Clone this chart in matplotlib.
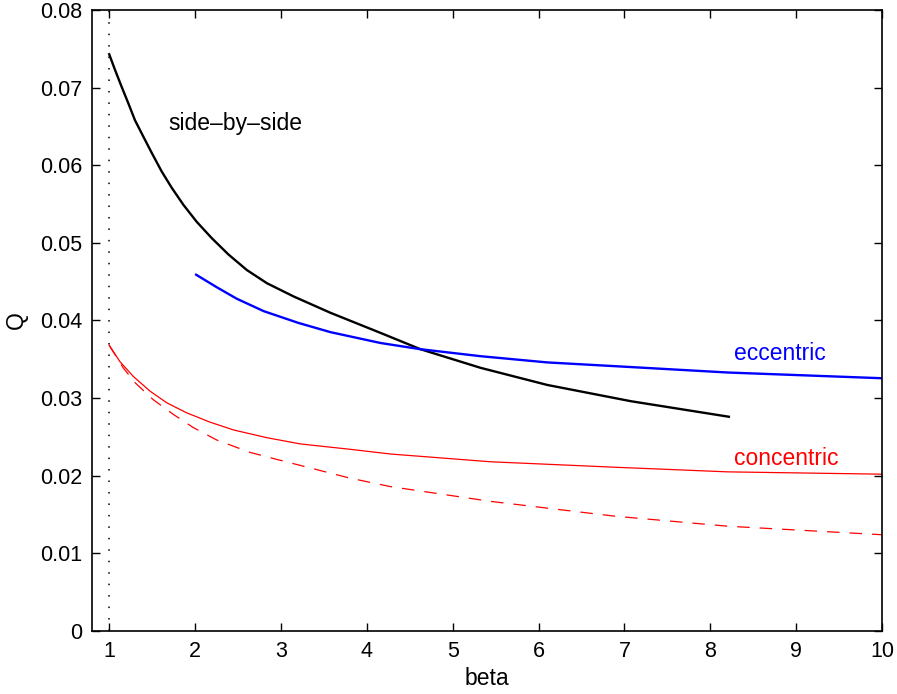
import matplotlib
matplotlib.use("Agg")
import matplotlib.pyplot as plt

plt.rcParams['font.family'] = ['Liberation Sans', 'DejaVu Sans']

# side-by-side (black)
beta_sbs = [1.0, 1.067, 1.145, 1.222, 1.30, 1.397, 1.495, 1.611, 1.728, 1.864, 2.02, 2.195, 2.389,
            2.603, 2.837, 3.147, 3.575, 4.16, 4.625, 5.325, 6.10, 7.076, 8.216]
q_sbs = [0.0743, 0.0723, 0.0701, 0.0680, 0.0658, 0.0637, 0.0616, 0.0592, 0.0571, 0.0549, 0.0527, 0.0506, 0.0485,
         0.0465, 0.0448, 0.0431, 0.0410, 0.0384, 0.0363, 0.0339, 0.0317, 0.0296, 0.0276]

# eccentric (blue)
beta_ecc = [2.012, 2.25, 2.486, 2.8, 3.2, 3.576, 4.16, 4.625, 5.325, 6.10, 7.076, 8.2, 10.0]
q_ecc = [0.0459, 0.0443, 0.0428, 0.0412, 0.0397, 0.0385, 0.0371, 0.0363, 0.0354, 0.0346, 0.0340, 0.0333, 0.03256]

# concentric (red solid)
beta_con = [1.0, 1.125, 1.28, 1.475, 1.67, 1.903, 2.175, 2.447, 2.837, 3.225, 3.81, 4.275, 5.44, 6.88, 8.2, 10.0]
q_con = [0.0368, 0.0347, 0.0328, 0.0309, 0.0294, 0.0281, 0.0269, 0.0259, 0.0249, 0.0241, 0.0234, 0.0228, 0.0218,
         0.0211, 0.0205, 0.0202]

# concentric (red dashed)
beta_con2 = [1.0, 1.163, 1.30, 1.513, 1.747, 1.98, 2.253, 2.642, 2.953, 3.342, 3.80, 4.275, 5.44, 6.88, 8.2, 10.0]
q_con2 = [0.0368, 0.0339, 0.0320, 0.0298, 0.0279, 0.0262, 0.0246, 0.0230, 0.0221, 0.0210, 0.0197, 0.0186, 0.0167,
          0.0148, 0.0135, 0.0124]

fig = plt.figure(figsize=(8.97, 6.94), dpi=100)
ax = fig.add_axes([0.1026, 0.0908, 0.8807, 0.8948])

ax.axvline(1, color='k', linestyle=(0, (1, 6.5)), linewidth=1.1)
ax.plot(beta_sbs, q_sbs, color='k', linewidth=1.7)
ax.plot(beta_ecc, q_ecc, color='#0000ff', linewidth=1.7)
ax.plot(beta_con, q_con, color='#ff0000', linewidth=0.9)
ax.plot(beta_con2, q_con2, color='#ff0000', linewidth=0.9, linestyle=(0, (10, 8)))

ax.text(1.69, 0.0646, 'side\u2013by\u2013side', fontsize=16.5, color='k', va='baseline')
ax.text(8.274, 0.03494, 'eccentric', fontsize=16.5, color='#0000ff', va='baseline')
ax.text(8.274, 0.02135, 'concentric', fontsize=16.5, color='#ff0000', va='baseline')

ax.set_xlim(0.8, 10)
ax.set_ylim(0, 0.08)
ax.set_xticks(range(1, 11))
ax.set_yticks([0, 0.01, 0.02, 0.03, 0.04, 0.05, 0.06, 0.07, 0.08])
ax.set_yticklabels(['0', '0.01', '0.02', '0.03', '0.04', '0.05', '0.06', '0.07', '0.08'])
ax.tick_params(direction='in', length=6, width=1, top=True, right=True, labelsize=15.5, pad=7)
for s in ax.spines.values():
    s.set_linewidth(1.2)

ax.set_xlabel('beta', fontsize=16.5, labelpad=4)
ax.set_ylabel('Q', fontsize=16.5, labelpad=9)

fig.savefig('out.png', dpi=100)
